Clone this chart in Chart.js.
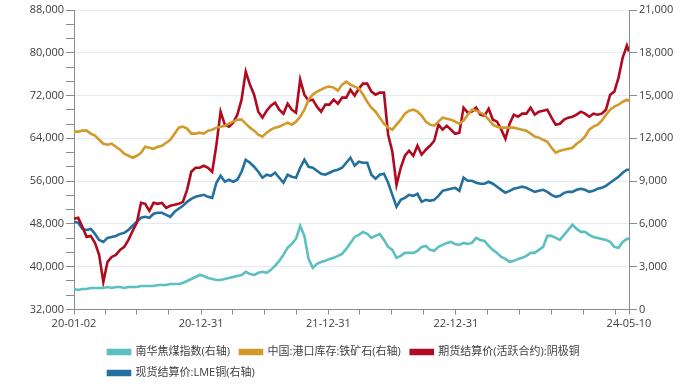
<!DOCTYPE html>
<html>
<head>
<meta charset="utf-8">
<title>阴极铜、LME铜、铁矿石港口库存与焦煤指数</title>
<script src="https://cdn.jsdelivr.net/npm/chart.js@4/dist/chart.umd.min.js"></script>
<style>
  html, body { margin: 0; padding: 0; background: #fff; }
  #wrap { width: 685px; height: 390px; }
</style>
</head>
<body>
<div id="wrap"><canvas id="chart" width="685" height="390"></canvas></div>
<script>
// values, one every 12 days from startDate, last one at endDate
const startDate = '2020-01-02';
const endDate = '2024-05-10';
const stepDays = 12;

const seriesNames = ['南华焦煤指数(右轴)', '中国:港口库存:铁矿石(右轴)', '期货结算价(活跃合约):阴极铜', '现货结算价:LME铜(右轴)'];

const cokingCoal = [
  1440, 1370, 1440, 1440, 1510, 1510, 1510, 1510, 1580, 1510,
  1580, 1580, 1510, 1580, 1580, 1580, 1650, 1650, 1650, 1650,
  1720, 1720, 1720, 1790, 1790, 1790, 1860, 2000, 2140, 2280,
  2420, 2350, 2210, 2140, 2070, 2070, 2140, 2210, 2280, 2350,
  2420, 2640, 2490, 2420, 2570, 2640, 2570, 2780, 3060, 3410,
  3830, 4320, 4600, 4950, 5860, 5160, 3550, 2920, 3200, 3340,
  3410, 3550, 3620, 3760, 3900, 4250, 4670, 5090, 5230, 5440,
  5300, 5020, 5160, 5300, 4880, 4390, 4180, 3620, 3760, 3970,
  3970, 3970, 4110, 4390, 4460, 4180, 4110, 4390, 4530, 4670,
  4740, 4600, 4530, 4670, 4600, 4670, 5020, 4880, 4810, 4460,
  4180, 3970, 3690, 3550, 3340, 3410, 3550, 3620, 3760, 3970,
  3970, 4180, 4390, 5160, 5160, 5020, 4880, 5230, 5580, 5940,
  5650, 5440, 5440, 5230, 5090, 5020, 4950, 4880, 4740, 4390,
  4320, 4740, 4950, 4950
];

const ironOreStock = [
  12470, 12470, 12540, 12540, 12330, 12190, 11900, 11620, 11550, 11620,
  11410, 11200, 10920, 10780, 10640, 10780, 10990, 11410, 11340, 11270,
  11410, 11480, 11690, 11900, 12330, 12750, 12820, 12680, 12330, 12330,
  12400, 12330, 12540, 12610, 12750, 12820, 12890, 13030, 13170, 13310,
  13310, 13030, 12750, 12540, 12260, 12120, 12400, 12610, 12750, 12820,
  12960, 13100, 12960, 13170, 13520, 14010, 14710, 15070, 15280, 15420,
  15560, 15630, 15560, 15350, 15770, 15980, 15770, 15630, 15490, 15070,
  14570, 14150, 13870, 13450, 13030, 12750, 12610, 12960, 13310, 13730,
  13940, 14010, 13870, 13590, 13170, 12960, 12890, 13170, 13450, 13380,
  13310, 13170, 13030, 13240, 13660, 14010, 13940, 13800, 13660, 13310,
  12960, 12820, 12750, 12750, 12750, 12750, 12680, 12610, 12540, 12330,
  12120, 12050, 11900, 11760, 11340, 10990, 11130, 11200, 11270, 11340,
  11620, 11830, 12120, 12610, 12820, 12960, 13240, 13660, 14010, 14220,
  14360, 14570, 14710, 14640
];

const shfeCopper = [
  48950, 49140, 47450, 45580, 45760, 44450, 42210, 37150, 40890, 41830,
  42210, 43140, 43700, 45010, 46700, 48200, 51940, 51760, 50450, 51940,
  51760, 51940, 51010, 51380, 51570, 51760, 52130, 54380, 57750, 58500,
  58500, 58880, 58500, 57750, 62810, 68990, 66560, 66180, 66930, 68430,
  71240, 76480, 74050, 72170, 68990, 67870, 69180, 70110, 70680, 69360,
  68620, 70490, 69360, 68800, 74980, 72170, 71050, 71240, 69930, 68990,
  70300, 70300, 71240, 70490, 71610, 71610, 73110, 71990, 73300, 74230,
  74230, 72740, 72170, 72550, 72550, 64680, 61500, 55320, 58500, 60750,
  61690, 60750, 62620, 60940, 61870, 62620, 63560, 66560, 65620, 66370,
  65620, 64870, 65060, 69740, 68800, 68990, 69740, 68430, 68240, 69550,
  67490, 67120, 65620, 63930, 66740, 68430, 68050, 68620, 68620, 69740,
  68430, 68990, 69180, 69360, 67870, 66560, 66740, 67490, 67870, 68050,
  68430, 68990, 68620, 68050, 68620, 68430, 68620, 69360, 72170, 72740,
  75360, 79100, 81350, 80230
];

const lmeCopper = [
  6150, 6080, 5650, 5580, 5650, 5300, 4880, 4740, 5020, 5090,
  5160, 5300, 5370, 5580, 5870, 6150, 6430, 6500, 6430, 6710,
  6780, 6780, 6640, 6500, 6850, 7060, 7270, 7550, 7760, 7900,
  7970, 8040, 7900, 7830, 8890, 9380, 8960, 9100, 8960, 9100,
  9660, 10500, 10290, 10010, 9660, 9240, 9450, 9380, 9590, 9240,
  8890, 9450, 9310, 9240, 9940, 10500, 10010, 9940, 9730, 9520,
  9450, 9590, 9730, 9800, 9940, 10290, 10640, 10080, 10360, 10290,
  10290, 9450, 9170, 9450, 9520, 8890, 8040, 7200, 7690, 7830,
  8040, 7970, 8110, 7550, 7690, 7620, 7690, 7970, 8320, 8390,
  8460, 8530, 8320, 9240, 9030, 9030, 8890, 8820, 8820, 8960,
  8820, 8610, 8390, 8180, 8320, 8460, 8530, 8610, 8530, 8390,
  8250, 8320, 8390, 8250, 8040, 7900, 7970, 8180, 8250, 8250,
  8390, 8460, 8390, 8250, 8320, 8460, 8530, 8670, 8890, 9100,
  9310, 9590, 9800, 9800
];

const xTickDates = [
  '2020-01-02', '2020-03-31', '2020-06-30', '2020-09-30',
  '2020-12-31', '2021-03-31', '2021-06-30', '2021-09-30',
  '2021-12-31', '2022-03-31', '2022-06-30', '2022-09-30',
  '2022-12-31', '2023-03-31', '2023-06-30', '2023-09-30',
  '2023-12-31', '2024-03-31', '2024-05-10'
];
const xLabelDates = ['2020-01-02', '2020-12-31', '2021-12-31', '2022-12-31', '2024-05-10'];

const leftMajorTicks = [32000, 40000, 48000, 56000, 64000, 72000, 80000, 88000];
const rightMajorTicks = [0, 3000, 6000, 9000, 12000, 15000, 18000, 21000];

const colors = ['#5cbfc2', '#d3992b', '#b10a1f', '#23709e'];

// #### helpers
function dayOf(dateStr) {
    return Math.round((Date.parse(dateStr) - Date.parse(startDate)) / 86400000);
}

function sampleDays(count) {
    const days = [];
    for (let i = 0; i < count - 1; i++) days.push(i * stepDays);
    days.push(dayOf(endDate));
    return days;
}

function toPoints(values) {
    const days = sampleDays(values.length);
    return values.map((v, i) => ({ x: days[i], y: v }));
}

const fontFamily = '"Open Sans", "Noto Sans CJK SC", sans-serif';
const textColor = '#3d3d3d';
const axisColor = '#8a8a8a';
const gridColor = '#e4e9f2';
const legendIndent = 98;

// left axis has two small ticks between every labelled one
const leftTickValues = [];
leftMajorTicks.forEach((v, i) => {
    leftTickValues.push(v);
    if (i < leftMajorTicks.length - 1) {
        const step = (leftMajorTicks[i + 1] - v) / 3;
        leftTickValues.push(v + step, v + 2 * step);
    }
});

// the legend rows start a bit right of the page edge and wrap before the 4th item
const legendShift = {
    id: 'legendShift',
    beforeLayout(chart) {
        const legend = chart.legend;
        if (legend && !legend._shifted) {
            const update = legend.update.bind(legend);
            legend.update = (w, h, m) => update(w - legendIndent, h, m);
            legend._shifted = true;
        }
    },
    afterLayout(chart) {
        chart.legend.left = legendIndent;
    }
};

function lineSet(label, values, color, axis) {
    return {
        label: label,
        data: toPoints(values),
        yAxisID: axis,
        borderColor: color,
        backgroundColor: color,
        borderWidth: 2.6,
        pointRadius: 0,
        tension: 0,
        fill: false
    };
}

// #### Chart
const chart = new Chart(document.getElementById('chart').getContext('2d'), {
    type: 'line',
    data: {
        datasets: [
            lineSet(seriesNames[0], cokingCoal, colors[0], 'yRight'),
            lineSet(seriesNames[1], ironOreStock, colors[1], 'yRight'),
            lineSet(seriesNames[2], shfeCopper, colors[2], 'yLeft'),
            lineSet(seriesNames[3], lmeCopper, colors[3], 'yRight')
        ]
    },
    plugins: [legendShift],
    options: {
        responsive: false,
        animation: false,
        devicePixelRatio: 1,
        layout: { padding: { top: 10, bottom: 1.5, left: 0, right: 0 } },
        scales: {
            x: {
                type: 'linear',
                min: 0,
                max: dayOf(endDate),
                afterBuildTicks: (scale) => {
                    scale.ticks = xTickDates.map(d => ({ value: dayOf(d) }));
                },
                afterFit: (scale) => { scale.height = 27; },
                ticks: {
                    autoSkip: false,
                    maxRotation: 0,
                    padding: 3,
                    color: textColor,
                    font: { family: fontFamily, size: 11 },
                    callback: (value) => {
                        const d = xLabelDates.find(s => dayOf(s) === value);
                        return d ? d.slice(2) : '';
                    }
                },
                grid: { drawOnChartArea: false, drawTicks: true, tickLength: 5, tickColor: axisColor },
                border: { color: axisColor }
            },
            yLeft: {
                position: 'left',
                min: 32000,
                max: 88000,
                afterBuildTicks: (scale) => {
                    scale.ticks = leftTickValues.map(v => ({ value: v }));
                },
                afterFit: (scale) => { scale.width = 74; },
                ticks: {
                    autoSkip: false,
                    padding: 2,
                    color: textColor,
                    font: { family: fontFamily, size: 11 },
                    callback: (value, index) => index % 3 === 0 ? value.toLocaleString('en-US') : ''
                },
                grid: {
                    color: (ctx) => ctx.index % 3 === 0 ? gridColor : 'rgba(0,0,0,0)',
                    tickColor: axisColor,
                    tickLength: 8
                },
                border: { color: axisColor }
            },
            yRight: {
                position: 'right',
                min: 0,
                max: 21000,
                afterBuildTicks: (scale) => {
                    scale.ticks = rightMajorTicks.map(v => ({ value: v }));
                },
                afterFit: (scale) => { scale.width = 56; },
                ticks: {
                    autoSkip: false,
                    padding: 2,
                    color: textColor,
                    font: { family: fontFamily, size: 11 },
                    callback: (value) => value.toLocaleString('en-US')
                },
                grid: { drawOnChartArea: false, tickColor: axisColor, tickLength: 8 },
                border: { color: axisColor }
            }
        },
        plugins: {
            legend: {
                position: 'bottom',
                align: 'start',
                labels: {
                    boxWidth: 22,
                    boxHeight: 4,
                    padding: 10,
                    color: textColor,
                    font: { family: fontFamily, size: 11 }
                }
            },
            tooltip: { enabled: false }
        }
    }
});
</script>
</body>
</html>
